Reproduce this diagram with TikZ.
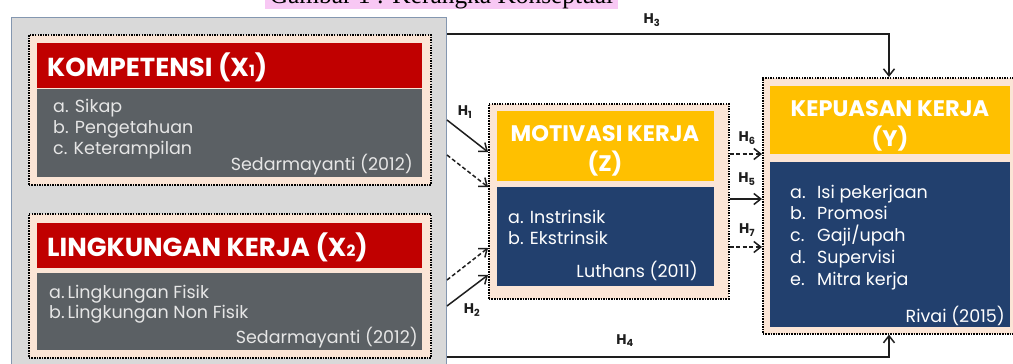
\documentclass[tikz,border=0pt]{standalone}
\usepackage{fontspec}
\setmainfont{Poppins}
\newfontfamily\capfont{Liberation Serif}
\usetikzlibrary{arrows.meta,calc}
\definecolor{outergray}{HTML}{D9D9D9}
\definecolor{outerborder}{HTML}{8497B0}
\definecolor{peach}{HTML}{FBE5D6}
\definecolor{hdred}{HTML}{C00000}
\definecolor{bodygray}{HTML}{5B6064}
\definecolor{hdyellow}{HTML}{FFC000}
\definecolor{navy}{HTML}{22406E}
\definecolor{pinkhl}{HTML}{F8C8F4}
\definecolor{lighttext}{HTML}{E6E6E6}
\definecolor{linecol}{HTML}{1E1E1E}
\tikzset{
  box/.style={rectangle, inner sep=0pt, anchor=north west},
  dotbox/.style={box, fill=peach, draw=black, line width=1.6pt, dash pattern=on 1.5pt off 1.1pt},
  hdtext/.style={text=white, font=\bfseries\fontsize{26}{30}\selectfont, inner sep=0pt, anchor=base west},
  yhdtext/.style={text=white, font=\bfseries\fontsize{22.5}{30}\selectfont, inner sep=0pt, anchor=base},
  bodytext/.style={text=lighttext, font=\fontsize{17.5}{21}\selectfont, inner sep=0pt, align=left, anchor=base west},
  reftext/.style={text=lighttext, font=\fontsize{17.5}{21}\selectfont, inner sep=0pt, anchor=base east},
  hlabel/.style={font=\bfseries\fontsize{14}{14}\selectfont, inner sep=0pt, text=linecol},
  conn/.style={line width=1.5pt, draw=linecol, -{Straight Barb[length=7pt,width=11pt,line width=1.5pt]}},
  dconn/.style={conn, dash pattern=on 4pt off 2.5pt},
  bigline/.style={line width=1.8pt, draw=linecol, -{Straight Barb[length=7pt,width=11pt,line width=1.5pt]}}
}
\newcommand{\sbn}[1]{{\fontsize{15.5}{15.5}\selectfont #1}}
\begin{document}
\begin{tikzpicture}[x=1pt,y=-1pt]
\useasboundingbox (0,0) rectangle (1013,364);
\begin{scope}
\clip (0,0) rectangle (1013,364);
% caption (cut off at the top edge)
\node[box, fill=pinkhl, minimum width=353pt, minimum height=23pt] (cap) at (265,-14) {};
\node[inner sep=0pt, anchor=base, font=\capfont\fontsize{25.4}{26}\selectfont] (captext) at (441.5,4) {Gambar 1 : Kerangka Konseptual};
% outer gray box
\node[box, fill=outergray, draw=outerborder, line width=1pt, minimum width=435pt, minimum height=370pt] (outer) at (11,17) {};
% X1
\node[dotbox, minimum width=402pt, minimum height=150pt] (x1) at (28,34) {};
\node[box, fill=hdred, minimum width=385pt, minimum height=45pt] (x1h) at (37,43) {};
\node[box, fill=bodygray, minimum width=385pt, minimum height=88pt] (x1b) at (37,89) {};
\node[hdtext] (x1t) at (47,76) {KOMPETENSI (X\sbn{1})};
\node[bodytext] (x1l) at (53,154) {a. Sikap\\ b. Pengetahuan\\ c. Keterampilan};
\node[reftext] (x1r) at (413,170) {Sedarmayanti (2012)};
% X2
\node[dotbox, minimum width=402pt, minimum height=144pt] (x2) at (28,213) {};
\node[box, fill=hdred, minimum width=385pt, minimum height=45pt] (x2h) at (37,223) {};
\node[box, fill=bodygray, minimum width=385pt, minimum height=77pt] (x2b) at (37,273) {};
\node[hdtext] (x2t) at (47,256) {LINGKUNGAN KERJA (X\sbn{2})};
\node[bodytext, font=\fontsize{17.5}{20}\selectfont] (x2l) at (49,318) {a.\,Lingkungan Fisik\\ b.\,Lingkungan Non Fisik};
\node[reftext] (x2r) at (418,343) {Sedarmayanti (2012)};
% Z
\node[dotbox, minimum width=240pt, minimum height=195pt] (z) at (488,103) {};
\node[box, fill=hdyellow, minimum width=217pt, minimum height=70pt] (zh) at (497,111) {};
\node[box, fill=navy, minimum width=217pt, minimum height=99pt] (zb) at (497,187) {};
\node[yhdtext] (zt1) at (605,141) {MOTIVASI KERJA};
\node[yhdtext] (zt2) at (605,171) {(Z)};
\node[bodytext, text=white] (zl) at (508,244) {a. Instrinsik\\ b. Ekstrinsik};
\node[reftext, text=white] (zr) at (698,277) {Luthans (2011)};
% Y
\node[dotbox, minimum width=260pt, minimum height=256pt] (y) at (762,77) {};
\node[box, fill=hdyellow, minimum width=240pt, minimum height=68pt] (yh) at (770,86) {};
\node[box, fill=navy, minimum width=240pt, minimum height=165pt] (yb) at (770,162) {};
\node[yhdtext] (yt1) at (890,116) {KEPUASAN KERJA};
\node[yhdtext] (yt2) at (890,146) {(Y)};
\node[bodytext, text=white, font=\fontsize{17.5}{21.7}\selectfont] (yl) at (790,285) {%
\makebox[27pt][l]{a.}Isi pekerjaan\\ \makebox[27pt][l]{b.}Promosi\\ \makebox[27pt][l]{c.}Gaji/upah\\ \makebox[27pt][l]{d.}Supervisi\\ \makebox[27pt][l]{e.}Mitra kerja};
\node[reftext, text=white] (yr) at (1005,322) {Rivai (2015)};
% connectors
\coordinate (h3c) at (889,34);
\coordinate (h4c) at (889,357);
\draw[bigline] (outer.east |- h3c) -- (h3c) -- (y.north -| h3c);
\draw[bigline] (outer.east |- h4c) -- (h4c) -- (y.south -| h4c);
\node[hlabel] (h3) at (652,20) {H\textsubscript{3}};
\node[hlabel] (h4) at (625,341) {H\textsubscript{4}};
\draw[conn] (outer.east |- 0,120) -- (z.west |- 0,152);
\draw[dconn] (outer.east |- 0,155) -- (z.west |- 0,187);
\node[hlabel] (h1) at (465,112) {H\textsubscript{1}};
\draw[dconn] (outer.east |- 0,280) -- (z.west |- 0,248);
\draw[conn] (outer.east |- 0,306) -- (z.west |- 0,275);
\node[hlabel] (h2) at (472,310) {H\textsubscript{2}};
\draw[dconn] (z.east |- 0,154) -- (y.west |- 0,154);
\draw[conn] (z.east |- 0,199) -- (y.west |- 0,199);
\draw[dconn] (z.east |- 0,247) -- (y.west |- 0,247);
\node[hlabel] (h6) at (747,138) {H\textsubscript{6}};
\node[hlabel] (h5) at (747,179) {H\textsubscript{5}};
\node[hlabel] (h7) at (747,230) {H\textsubscript{7}};
\end{scope}
\end{tikzpicture}
\end{document}
